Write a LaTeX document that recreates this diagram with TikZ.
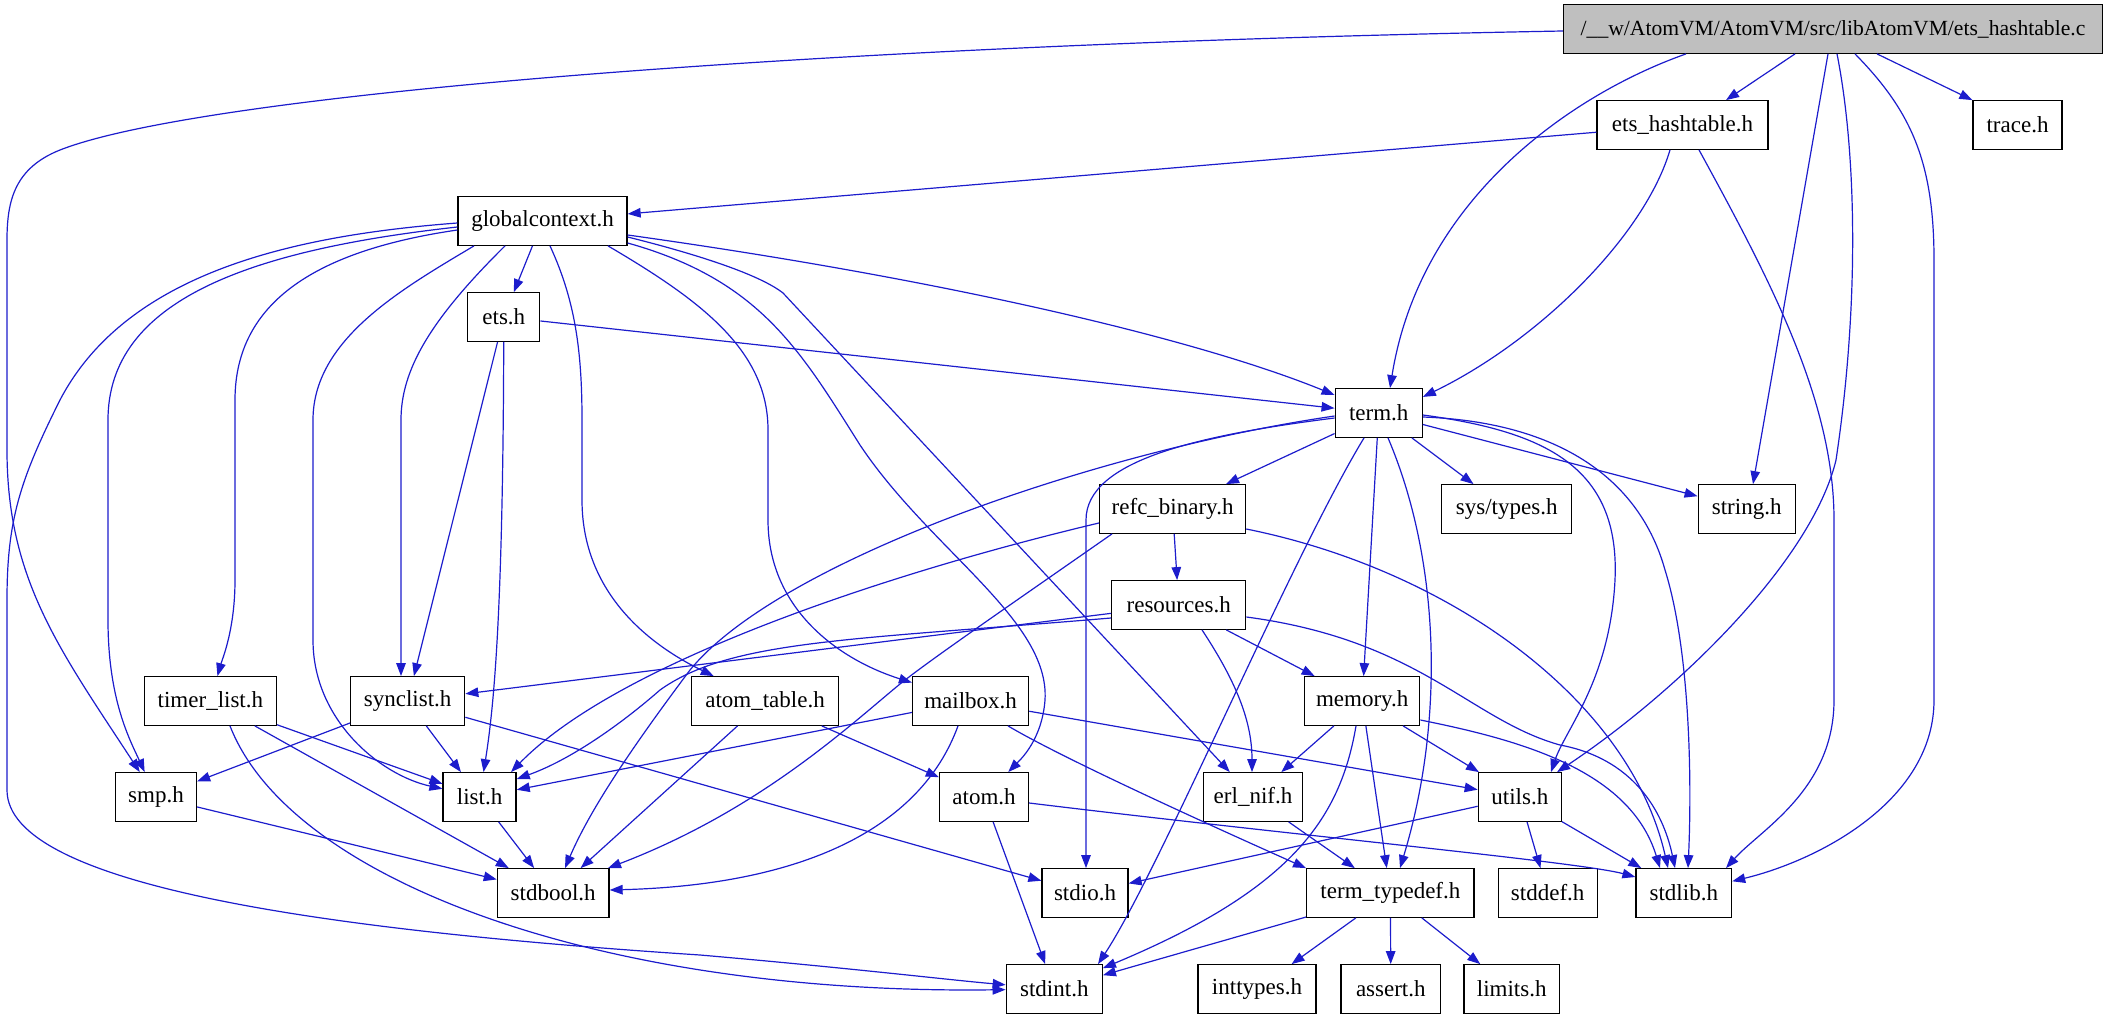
\documentclass[tikz,border=0pt]{standalone}
\usepackage{fontspec}
\setmainfont{Liberation Serif}
\usetikzlibrary{arrows.meta}
\definecolor{edgeblue}{RGB}{28,28,204}
\definecolor{rootgrey}{RGB}{191,191,191}
\begin{document}
\begin{tikzpicture}[x=1pt,y=-1pt,
  box/.style={draw=black, line width=1.3pt, minimum height=48.5pt, inner sep=0pt, font=\fontsize{23}{27}\selectfont},
  dep/.style={draw=edgeblue, line width=1.2pt, -{Triangle[length=13pt,width=9.5pt]}}]
\useasboundingbox (0,0) rectangle (2108,1019);
% nodes
\node[box, fill=rootgrey, minimum width=539pt, font=\fontsize{21.6}{26}\selectfont] (C) at (1833,29) {/\_\_w/AtomVM/AtomVM/src/libAtomVM/ets\_hashtable.c};
\node[box, minimum width=171pt] (eh) at (1682.5,125) {ets\_hashtable.h};
\node[box, minimum width=89pt] (trace) at (2017.5,125) {trace.h};
\node[box, minimum width=169pt] (gc) at (542.5,221) {globalcontext.h};
\node[box, minimum width=72pt] (ets) at (503.8,317) {ets.h};
\node[box, minimum width=87pt] (term) at (1378.7,413) {term.h};
\node[box, minimum width=146pt] (refc) at (1172.6,509) {refc\_binary.h};
\node[box, minimum width=130pt] (systypes) at (1506.7,509) {sys/types.h};
\node[box, minimum width=97pt] (string) at (1746.7,509) {string.h};
\node[box, minimum width=134pt] (resources) at (1178.7,605) {resources.h};
\node[box, minimum width=132pt] (timer) at (210.4,701) {timer\_list.h};
\node[box, minimum width=114pt] (synclist) at (407.7,701) {synclist.h};
\node[box, minimum width=146.5pt] (atomtable) at (765,701) {atom\_table.h};
\node[box, minimum width=116pt] (mailbox) at (970.6,701) {mailbox.h};
\node[box, minimum width=115pt] (memory) at (1362.2,701) {memory.h};
\node[box, minimum width=81pt] (smp) at (156,797) {smp.h};
\node[box, minimum width=73pt] (list) at (479.6,797) {list.h};
\node[box, minimum width=89pt] (atom) at (984,797) {atom.h};
\node[box, minimum width=99.5pt] (erlnif) at (1253,797) {erl\_nif.h};
\node[box, minimum width=83pt] (utils) at (1519.8,797) {utils.h};
\node[box, minimum width=111.6pt] (stdbool) at (553.2,893) {stdbool.h};
\node[box, minimum width=86pt] (stdio) at (1085,893) {stdio.h};
\node[box, minimum width=167.4pt] (termtypedef) at (1390.4,893) {term\_typedef.h};
\node[box, minimum width=99pt] (stddef) at (1547.7,893) {stddef.h};
\node[box, minimum width=95.5pt] (stdlib) at (1683.8,893) {stdlib.h};
\node[box, minimum width=96pt] (stdint) at (1054.3,989) {stdint.h};
\node[box, minimum width=118pt] (inttypes) at (1257,989) {inttypes.h};
\node[box, minimum width=99.5pt] (assert) at (1390.8,989) {assert.h};
\node[box, minimum width=95.5pt] (limits) at (1511.7,989) {limits.h};

% ets_hashtable.c
\draw[dep] ([yshift=-2pt]C.west) .. controls (800,45) and (200,95) .. (60,150) .. controls (15,168) and (7,200) .. (7,240) -- (7,450) .. controls (7,580) and (60,650) .. (smp);
\draw[dep] (1686,0 |- C.south) .. controls (1570,95) and (1420,200) .. (1390,0 |- term.north);
\draw[dep] (1795,0 |- C.south) -- (1726,0 |- eh.north);
\draw[dep] (1828,0 |- C.south) -- (1753,0 |- string.north);
\draw[dep] (1837,0 |- C.south) .. controls (1856,150) and (1860,300) .. (1836,460) .. controls (1812,560) and (1680,690) .. (utils);
\draw[dep] (1855,0 |- C.south) .. controls (1910,110) and (1934,160) .. (1934,260) -- (1934,700) .. controls (1934,800) and (1820,860) .. (stdlib);
\draw[dep] (1877,0 |- C.south) -- (trace.north west);

% ets_hashtable.h
\draw[dep] (eh) -- (gc);
\draw[dep] (1670,0 |- eh.south) .. controls (1645,235) and (1540,340) .. (term.20);
\draw[dep] (1699,0 |- eh.south) .. controls (1770,280) and (1834,400) .. (1834,520) -- (1834,700) .. controls (1834,790) and (1760,830) .. (1726,0 |- stdlib.north);

% globalcontext.h
\draw[dep] (gc) -- (ets);
\draw[dep] ([yshift=-14pt]gc.east) .. controls (950,280) and (1200,340) .. (term);
\draw[dep] ([yshift=-2pt]gc.west) .. controls (300,235) and (128,270) .. (60,400) .. controls (20,480) and (7,520) .. (7,600) -- (7,790) .. controls (7,885) and (320,930) .. (700,955) .. controls (850,968) and (950,980) .. (stdint);
\draw[dep] ([yshift=-6pt]gc.west) .. controls (250,250) and (108,300) .. (108,420) -- (108,620) .. controls (108,700) and (130,740) .. (smp);
\draw[dep] ([yshift=-9pt]gc.west) .. controls (320,250) and (235,300) .. (235,400) -- (235,580) .. controls (235,630) and (222,660) .. (timer);
\draw[dep] (474,0 |- gc.south) .. controls (400,290) and (313,340) .. (313,420) -- (313,640) .. controls (313,720) and (380,775) .. (list);
\draw[dep] (505,0 |- gc.south) .. controls (430,320) and (401,370) .. (401,420) -- (401,0 |- synclist.north);
\draw[dep] (550,0 |- gc.south) .. controls (575,300) and (582,350) .. (582,420) -- (582,500) .. controls (582,600) and (660,650) .. (atomtable);
\draw[dep] (608,0 |- gc.south) .. controls (700,300) and (768,350) .. (768,430) -- (768,520) .. controls (768,610) and (840,660) .. (mailbox);
\draw[dep] ([yshift=-22pt]gc.east) .. controls (760,280) and (800,350) .. (860,445) .. controls (930,550) and (1050,620) .. (1045,700) .. controls (1042,740) and (1020,760) .. (atom);
\draw[dep] ([yshift=-16pt]gc.east) .. controls (700,255) and (760,275) .. (783,293) -- (erlnif);

% ets.h
\draw[dep] (ets) -- (term);
\draw[dep] (ets) -- (synclist);
\draw[dep] (ets) .. controls (503,600) and (495,700) .. (list);

% term.h
\draw[dep] (term) -- (refc);
\draw[dep] (term) -- (systypes);
\draw[dep] (term) -- (string);
\draw[dep] (term) -- (memory);
\draw[dep] (1388,0 |- term.south) .. controls (1440,560) and (1445,720) .. (1400,0 |- termtypedef.north);
\draw[dep] (1364,0 |- term.south) .. controls (1290,560) and (1160,870) .. (1098,0 |- stdint.north);
\draw[dep] ([yshift=-5pt]term.west) .. controls (1200,435) and (1086,460) .. (1086,520) -- (1086,0 |- stdio.north);
\draw[dep] ([yshift=-3pt]term.west) .. controls (1100,450) and (780,560) .. (690,670) .. controls (630,750) and (590,810) .. (565,0 |- stdbool.north);
\draw[dep] ([yshift=-2pt]term.east) .. controls (1550,432) and (1620,470) .. (1615,580) .. controls (1610,680) and (1565,730) .. (1551,0 |- utils.north);
\draw[dep] ([yshift=-4pt]term.east) .. controls (1560,422) and (1640,480) .. (1665,570) .. controls (1690,650) and (1692,780) .. (1688,0 |- stdlib.north);

% refc_binary.h
\draw[dep] (refc) -- (resources);
\draw[dep] ([yshift=-20pt]refc.east) .. controls (1450,570) and (1630,700) .. (1668,0 |- stdlib.north);
\draw[dep] ([yshift=-14pt]refc.west) .. controls (900,570) and (620,660) .. (511,0 |- list.north);
\draw[dep] (1112,0 |- refc.south) .. controls (1000,612) and (930,660) .. (900,684) .. controls (850,725) and (760,810) .. (608,0 |- stdbool.north);

% resources.h
\draw[dep] (resources) -- (memory);
\draw[dep] (1202,0 |- resources.south) .. controls (1235,680) and (1252,720) .. (1252,0 |- erlnif.north);
\draw[dep] ([yshift=-12pt]resources.east) .. controls (1420,640) and (1470,720) .. (1560,745) .. controls (1640,760) and (1665,820) .. (1675,0 |- stdlib.north);
\draw[dep] (resources) -- (synclist);
\draw[dep] ([yshift=-13pt]resources.west) .. controls (850,640) and (730,640) .. (660,690) .. controls (620,725) and (570,760) .. ([yshift=18pt]list.east);

% memory.h
\draw[dep] (memory) -- (erlnif);
\draw[dep] (1356,0 |- memory.south) .. controls (1340,820) and (1290,890) .. ([yshift=-4pt]stdint.north east);
\draw[dep] (memory) -- (termtypedef);
\draw[dep] (memory) -- (utils);
\draw[dep] ([yshift=-19pt]memory.east) .. controls (1520,740) and (1630,770) .. (1660,0 |- stdlib.north);

% utils.h
\draw[dep] (utils) -- (stdio);
\draw[dep] (utils) -- (stddef);
\draw[dep] (utils) -- (stdlib);

% erl_nif.h
\draw[dep] (erlnif) -- (termtypedef);

% term_typedef.h
\draw[dep] (termtypedef) -- (stdint);
\draw[dep] (termtypedef) -- (inttypes);
\draw[dep] (termtypedef) -- (assert);
\draw[dep] (termtypedef) -- (limits);

% mailbox.h
\draw[dep] (mailbox) -- (list);
\draw[dep] (958,0 |- mailbox.south) .. controls (920,830) and (800,885) .. ([yshift=3pt]stdbool.east);
\draw[dep] (1008,0 |- mailbox.south) .. controls (1040,745) and (1120,785) .. (termtypedef.north west);
\draw[dep] (mailbox) -- (utils);

% atom_table.h
\draw[dep] (atomtable) -- (stdbool);
\draw[dep] (atomtable) -- (atom);

% atom.h
\draw[dep] (atom) -- (stdint);
\draw[dep] ([yshift=-6pt]atom.east) .. controls (1300,836) and (1580,862) .. ([yshift=16pt]stdlib.west);

% timer_list.h
\draw[dep] (timer) -- (list);
\draw[dep] (timer) -- (stdbool);
\draw[dep] (230,0 |- timer.south) .. controls (290,880) and (600,995) .. (stdint);

% synclist.h
\draw[dep] (synclist) -- (smp);
\draw[dep] (synclist) -- (list);
\draw[dep] (synclist) -- (stdio);

% smp.h, list.h
\draw[dep] (smp) -- (stdbool);
\draw[dep] (list) -- (stdbool);
\end{tikzpicture}
\end{document}
